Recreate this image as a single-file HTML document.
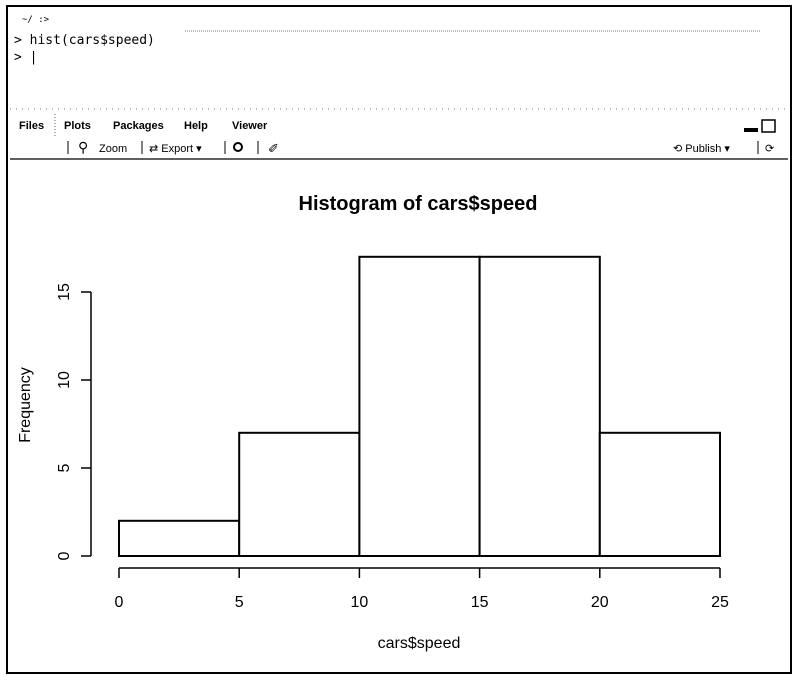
<!DOCTYPE html>
<html><head><meta charset="utf-8"><style>
body{margin:0;background:#fff;width:803px;height:683px;overflow:hidden;font-family:"Liberation Sans",sans-serif}
</style></head><body>
<svg width="803" height="683" style="position:absolute;left:0;top:0">
<rect x="7" y="6" width="784" height="667" fill="none" stroke="#000" stroke-width="2"/>
<text x="22" y="22" font-size="9" font-family="DejaVu Sans Mono">~/ :&gt;</text>
<line x1="185" y1="31" x2="760" y2="31" stroke="#000" stroke-width="0.6" stroke-dasharray="1,1"/>
<text x="14" y="44" font-size="13" font-family="DejaVu Sans Mono">&gt; hist(cars$speed)</text>
<text x="14" y="61" font-size="13" font-family="DejaVu Sans Mono">&gt; |</text>
<line x1="10" y1="109" x2="790" y2="109" stroke="#000" stroke-width="0.6" stroke-dasharray="1,5"/>
<g font-size="11" font-weight="bold">
<text x="19" y="129">Files</text>
<text x="64" y="129">Plots</text>
<text x="113" y="129">Packages</text>
<text x="184" y="129">Help</text>
<text x="232" y="129">Viewer</text>
</g>
<line x1="55" y1="114" x2="55" y2="138" stroke="#000" stroke-width="0.6" stroke-dasharray="1,2"/>
<rect x="744" y="128" width="14" height="4" fill="#000"/>
<rect x="762" y="120" width="13" height="12" fill="none" stroke="#000" stroke-width="1.5"/>
<g font-size="11">
<line x1="68" y1="141" x2="68" y2="154" stroke="#000"/>
<text x="78" y="152" font-size="14">⚲</text>
<text x="99" y="152">Zoom</text>
<line x1="142" y1="141" x2="142" y2="154" stroke="#000"/>
<text x="149" y="152">⇄ Export ▾</text>
<line x1="225" y1="141" x2="225" y2="154" stroke="#000"/>
<circle cx="238" cy="147" r="4" fill="none" stroke="#000" stroke-width="2"/>
<line x1="258" y1="141" x2="258" y2="154" stroke="#000"/>
<text x="268" y="153" font-size="13">✐</text>
<text x="673" y="152">⟲ Publish  ▾</text>
<line x1="758" y1="141" x2="758" y2="154" stroke="#000"/>
<text x="765" y="152">⟳</text>
</g>
<line x1="10" y1="159" x2="788" y2="159" stroke="#000" stroke-width="1.2"/>
<g id="chart"></g>
</svg>
<script>
const breaks=[0,5,10,15,20,25];
const counts=[2,7,17,17,7];
const xTicks=[0,5,10,15,20,25];
const yTicks=[0,5,10,15];
const NS="http://www.w3.org/2000/svg";
const g=document.getElementById('chart');
const xs=v=>119+v*(720-119)/25;
const ys=v=>556-v*(556-292)/15;
function mk(t,a,txt){const e=document.createElementNS(NS,t);for(const k in a)e.setAttribute(k,a[k]);if(txt!==undefined)e.textContent=txt;g.appendChild(e);return e;}
for(let i=0;i<counts.length;i++){
 const r=mk('rect',{x:xs(breaks[i]),y:ys(counts[i]),width:xs(breaks[i+1])-xs(breaks[i]),height:ys(0)-ys(counts[i]),fill:'#fff',stroke:'#000','stroke-width':2});
 
 
}
const xa=mk('line',{x1:xs(xTicks[0]),y1:568,x2:xs(xTicks[xTicks.length-1]),y2:568,stroke:'#000','stroke-width':1.5});


xTicks.forEach(v=>{
 mk('line',{x1:xs(v),y1:568,x2:xs(v),y2:578,stroke:'#000','stroke-width':1.5});
 const t=mk('text',{x:xs(v),y:607,'text-anchor':'middle','font-size':16},String(v));
 
 
});
const ya=mk('line',{x1:91,y1:ys(yTicks[0]),x2:91,y2:ys(yTicks[yTicks.length-1]),stroke:'#000','stroke-width':1.5});


yTicks.forEach(v=>{
 mk('line',{x1:81,y1:ys(v),x2:91,y2:ys(v),stroke:'#000','stroke-width':1.5});
 const t=mk('text',{x:69,y:ys(v),'text-anchor':'middle','font-size':16,transform:`rotate(-90 69 ${ys(v)})`},String(v));
 
 
});
const ti=mk('text',{x:418,y:210,'text-anchor':'middle','font-size':20,'font-weight':'bold'},'Histogram of cars$speed');


const xt=mk('text',{x:419,y:648,'text-anchor':'middle','font-size':16},'cars$speed');


const yt=mk('text',{x:30,y:405,'text-anchor':'middle','font-size':16,transform:'rotate(-90 30 405)'},'Frequency');


</script>
</body></html>
